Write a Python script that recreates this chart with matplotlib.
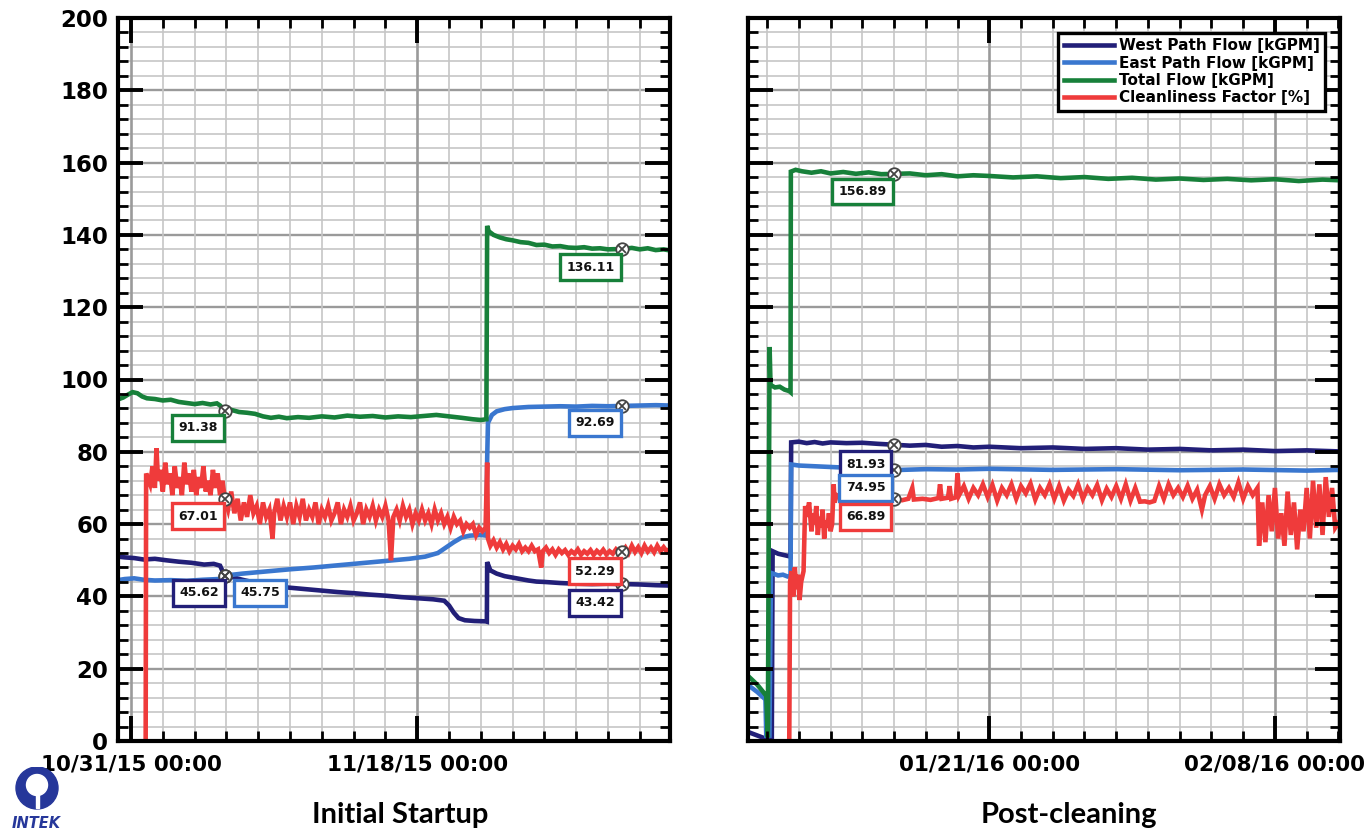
import matplotlib
matplotlib.use("Agg")
import matplotlib.pyplot as plt
import matplotlib.dates as mdates
from matplotlib.patches import Circle, Rectangle
from datetime import datetime
import numpy as np

# ---------------- data (days since the reference date of each panel) ----------------
# Initial Startup, days since 10/31/15 00:00
startup_west_t = [-0.82, -0.4, 0.2, 0.8, 1.5, 2.2, 3.0, 3.8, 4.6, 5.2, 5.6, 5.9, 6.4, 7.0, 7.6, 8.3, 9.0,
                  10.0, 11.0, 12.0, 13.0, 14.0, 15.0, 16.0, 17.0, 18.0, 19.0, 19.7, 20.0, 20.3, 20.6, 21.0,
                  21.6, 22.3, 22.38, 22.4, 22.6, 23.0, 23.5, 24.0, 24.5, 25.0, 25.5, 26.0, 27.0, 28.0, 29.0,
                  30.0, 30.9, 32.0, 33.0, 33.9]
startup_west = [51, 50.8, 50.6, 50.2, 50.4, 50, 49.6, 49.3, 48.8, 49, 48.5, 45.6, 45.3, 44.6, 44, 43.4, 42.8,
                42.4, 42, 41.6, 41.2, 40.9, 40.5, 40.2, 39.8, 39.5, 39.2, 38.8, 37.5, 35.5, 34, 33.4,
                33.2, 33.1, 33, 49.5, 47.2, 46.3, 45.6, 45.2, 44.8, 44.4, 44.1, 44, 43.7, 43.5, 43.4,
                43.5, 43.42, 43.3, 43.1, 43]

startup_east_t = [-0.82, -0.4, 0.2, 0.8, 1.5, 2.5, 3.5, 4.5, 5.5, 5.9, 7.0, 8.5, 10, 11.5, 13, 14.5, 16, 17.5,
                  18.5, 19.3, 19.8, 20.3, 20.8, 21.3, 22.0, 22.35, 22.4, 22.45, 22.7, 23.0, 23.5, 24.0, 25,
                  26, 27, 28, 29, 30, 30.9, 32, 33, 33.9]
startup_east = [44.5, 44.8, 45, 44.6, 44.4, 44.5, 44.3, 44.6, 44.8, 45.75, 46.3, 46.9, 47.5, 48, 48.6, 49.2,
                49.8, 50.4, 51, 52, 53.5, 55, 56.3, 56.8, 57, 56.8, 78, 88, 90.2, 91.2, 91.8, 92.1, 92.4,
                92.5, 92.6, 92.5, 92.7, 92.6, 92.69, 92.8, 92.9, 92.8]

startup_total_t = [-0.82, -0.5, -0.2, 0.1, 0.4, 0.7, 1.0, 1.5, 2.0, 2.5, 3.0, 3.5, 4.0, 4.5, 5.0, 5.4, 5.6,
                   5.9, 6.3, 6.8, 7.3, 7.8, 8.3, 8.8, 9.3, 9.8, 10.5, 11.2, 12.0, 12.8, 13.6, 14.4, 15.2,
                   16.0, 16.8, 17.6, 18.4, 19.2, 20.0, 20.8, 21.5, 22.0, 22.35, 22.4, 22.5, 22.8, 23.2,
                   23.6, 24.0, 24.5, 25.0, 25.5, 26.0, 26.5, 27.0, 27.5, 28.0, 28.5, 29.0, 29.5, 30.0,
                   30.9, 31.5, 32.0, 32.5, 33.0, 33.5, 33.9]
startup_total = [94.5, 95, 95.8, 96.5, 96.2, 95.3, 94.8, 94.6, 94.2, 94.4, 93.8, 93.5, 93.2, 93.5, 93.1,
                 93.4, 92.8, 91.4, 91.6, 91, 90.8, 90.5, 89.8, 89.4, 89.7, 89.3, 89.6, 89.4, 89.8, 89.5,
                 90, 89.7, 89.9, 89.5, 89.8, 89.6, 89.9, 90.2, 89.8, 89.4, 89, 88.8, 89, 142.5, 141, 140,
                 139.3, 138.8, 138.5, 138, 137.8, 137.2, 137.3, 136.8, 136.9, 136.5, 136.4, 136.6, 136.2,
                 136.3, 136.0, 136.11, 136.4, 136, 136.3, 135.8, 136, 135.7]

startup_clean_t = [0.92, 0.95, 1.2, 1.35, 1.5, 1.6, 1.7, 1.85, 2.0, 2.15, 2.3, 2.45, 2.6, 2.75, 2.9, 3.05,
                   3.2, 3.35, 3.5, 3.65, 3.8, 3.95, 4.1, 4.25, 4.4, 4.55, 4.7, 4.85, 5.0, 5.15, 5.3, 5.45,
                   5.6, 5.75, 5.9, 6.1, 6.3, 6.5, 6.7, 6.9, 7.1, 7.3, 7.5, 7.7, 7.9, 8.1, 8.3, 8.5, 8.7,
                   8.9, 9.0, 9.2, 9.4, 9.6, 9.8, 10.0, 10.2, 10.4, 10.6, 10.8, 11.0, 11.2, 11.4, 11.6,
                   11.8, 12.0, 12.2, 12.4, 12.6, 12.8, 13.0, 13.2, 13.4, 13.6, 13.8, 14.0, 14.2, 14.4,
                   14.6, 14.8, 15.0, 15.2, 15.4, 15.6, 15.8, 16.0, 16.2, 16.35, 16.5, 16.7, 16.9, 17.1,
                   17.3, 17.5, 17.7, 17.9, 18.1, 18.3, 18.5, 18.7, 18.9, 19.1, 19.3, 19.5, 19.7, 19.9,
                   20.1, 20.3, 20.5, 20.7, 20.9, 21.1, 21.3, 21.5, 21.7, 21.9, 22.1, 22.3, 22.4, 22.45,
                   22.6, 22.8, 23.0, 23.2, 23.4, 23.6, 23.8, 24.0, 24.2, 24.4, 24.6, 24.8, 25.0, 25.2,
                   25.4, 25.6, 25.8, 25.9, 26.1, 26.3, 26.5, 26.7, 26.9, 27.1, 27.3, 27.5, 27.7, 27.9,
                   28.1, 28.3, 28.5, 28.7, 28.9, 29.1, 29.3, 29.5, 29.7, 29.9, 30.1, 30.3, 30.5, 30.7,
                   30.9, 31.1, 31.3, 31.5, 31.7, 31.9, 32.1, 32.3, 32.5, 32.7, 32.9, 33.1, 33.3, 33.5,
                   33.7, 33.9]
startup_clean = [0, 74, 71, 76, 70, 81, 72, 75, 69, 77, 71, 74, 68, 76, 70, 73, 68, 77, 71, 74, 69, 75, 68,
                 73, 70, 76, 69, 72, 68, 75, 70, 74, 68, 72, 67, 64, 69, 63, 67, 61, 66, 62, 68, 63, 65,
                 60, 66, 62, 64, 56, 63, 67, 61, 65, 62, 66, 60, 65, 62, 67, 61, 64, 62, 66, 60, 64, 62,
                 65, 61, 63, 66, 60, 64, 62, 65, 61, 63, 66, 60, 64, 62, 65, 61, 64, 62, 65, 61, 50, 62,
                 64, 61, 65, 62, 64, 60, 63, 61, 64, 61, 63, 60, 64, 61, 63, 60, 62, 59, 62, 60, 61, 58,
                 60, 59, 60, 57, 59, 58, 59, 77, 56, 54, 55.5, 53.5, 55, 53, 54.5, 52.5, 54, 53, 54.5,
                 52.5, 53.5, 52.5, 54, 52.5, 53, 48, 52.5, 53.5, 52, 53, 51.5, 53, 52, 52.8, 51.5, 52.5,
                 51.8, 53, 51.5, 52.5, 51.8, 52.8, 51.5, 52.6, 51.8, 52.9, 51.6, 52.5, 51.8, 53, 52,
                 52.3, 53.5, 52, 54, 52.3, 53.6, 52, 54, 52.4, 53.5, 52.2, 54, 52.5, 53.6, 52.4, 53.2]

# Post-cleaning, days since 01/21/16 00:00
post_west_t = [-15.2, -14.6, -14.0, -13.7, -13.65, -13.3, -13.0, -12.7, -12.52, -12.48, -12, -11.5, -11,
               -10.5, -10, -9, -8, -7, -5.9, -5, -4, -3, -2, -1, 0, 2, 4, 6, 8, 10, 12, 14, 16, 18, 20,
               22.1]
post_west = [2.5, 1.5, 0.5, 0.5, 52.5, 51.8, 51.5, 51.2, 51, 82.6, 82.8, 82.4, 82.7, 82.3, 82.6, 82.4,
             82.5, 82.2, 81.93, 81.7, 81.9, 81.4, 81.6, 81.2, 81.4, 81, 81.2, 80.8, 81, 80.6, 80.8, 80.4,
             80.6, 80.2, 80.4, 80.1]

post_east_t = [-15.2, -14.6, -14.1, -14.05, -13.85, -13.75, -13.3, -13.0, -12.7, -12.52, -12.48, -12, -11,
               -10, -9, -8, -7, -5.9, -4, -2, 0, 4, 8, 12, 16, 20, 22.1]
post_east = [15.5, 13.5, 11.5, 1.5, 1.5, 46.5, 45.8, 46, 45.5, 45.6, 76.5, 76.2, 76, 75.8, 75.6, 75.5, 75.3,
             74.95, 75.2, 75.1, 75.3, 75.0, 75.2, 74.9, 75.1, 74.8, 75]

post_total_t = [-15.2, -14.6, -14.05, -13.95, -13.84, -13.78, -13.5, -13.2, -12.9, -12.6, -12.52, -12.5,
                -12.2, -11.8, -11.2, -10.6, -10, -9.2, -8.4, -7.6, -6.8, -5.9, -5, -4, -3, -2, -1, 0, 1.5,
                3, 4.5, 6, 7.5, 9, 10.5, 12, 13.5, 15, 16.5, 18, 19.5, 21, 22.1]
post_total = [18, 15.5, 12.5, 1, 109, 98.5, 97.8, 98, 97.2, 96.8, 96.5, 157.5, 158, 157.6, 157.2, 157.6, 157,
              157.4, 156.9, 157.3, 156.8, 156.89, 157, 156.5, 156.8, 156.2, 156.5, 156.3, 155.9, 156.2,
              155.7, 156, 155.5, 155.8, 155.3, 155.6, 155.2, 155.5, 155.1, 155.4, 154.9, 155.3, 155.1]

post_clean_t = [-12.6, -12.55, -12.45, -12.35, -12.25, -12.15, -12.05, -11.95, -11.85, -11.7, -11.6, -11.5,
                -11.35, -11.2, -11.1, -11.0, -10.9, -10.8, -10.7, -10.6, -10.5, -10.4, -10.3, -10.2,
                -10.1, -10.0, -9.9, -9.8, -9.75, -9.6, -9.3, -9.0, -8.6, -8.2, -7.8, -7.4, -7.0, -6.6,
                -6.2, -5.9, -5.5, -5.1, -4.85, -4.75, -4.2, -3.7, -3.2, -3.1, -3.0, -2.6, -2.5, -2.4,
                -2.1, -2.0, -1.9, -1.6, -1.3, -1.0, -0.7, -0.4, -0.1, 0.2, 0.5, 0.8, 1.1, 1.4, 1.7, 2.0,
                2.3, 2.6, 2.9, 3.2, 3.5, 3.8, 4.1, 4.4, 4.7, 5.0, 5.3, 5.6, 5.9, 6.2, 6.5, 6.8, 7.1, 7.4,
                7.7, 8.0, 8.3, 8.6, 8.9, 9.2, 9.5, 9.8, 10.1, 10.4, 10.7, 11.0, 11.3, 11.6, 11.9, 12.2,
                12.5, 12.8, 13.1, 13.4, 13.6, 13.9, 14.2, 14.5, 14.8, 15.1, 15.4, 15.7, 16.0, 16.3, 16.6,
                16.9, 17.0, 17.2, 17.4, 17.6, 17.8, 18.0, 18.2, 18.4, 18.6, 18.8, 19.0, 19.2, 19.4, 19.6,
                19.8, 20.0, 20.2, 20.4, 20.6, 20.8, 21.0, 21.2, 21.4, 21.6, 21.8, 22.1]
post_clean = [0, 44, 47, 40, 48, 42, 46, 39, 44, 47, 65, 62, 66, 58, 63, 60, 65, 57, 62, 59, 64, 56, 61, 59,
              63, 58, 60, 71, 66, 68, 67.5, 67, 67.5, 67, 67.3, 66.8, 67.2, 66.9, 67.2, 66.89, 66.6, 67,
              70, 66.8, 67, 66.7, 67.2, 71, 67, 67.3, 70.5, 67, 67.4, 74, 68, 70.5, 67, 70, 68, 71, 67.5,
              70.8, 66.5, 70, 68, 71, 67, 70.5, 68.5, 71.2, 66.8, 70, 68, 71, 67, 70.5, 66.5, 69.5, 67.8,
              71, 67, 70, 68, 70.8, 66.6, 69.8, 67.5, 70.5, 67, 71, 66.5, 70, 66.2, 66.3, 66, 66.4, 70.5,
              67, 71, 68, 70, 67.5, 70.6, 67, 69.5, 64, 68, 70.5, 67, 71, 68, 70, 67.5, 71.5, 67, 70.5,
              68, 70, 54, 66, 55, 68, 58, 70, 56, 63, 54, 69, 57, 66, 53, 64, 58, 70, 56, 72, 59, 71, 57,
              73, 62, 70, 59, 61]

# callouts: (days, value shown, box centre days, box centre value)
startup_marks = {
    "total": [(5.9, 91.38, 4.2, 86.6), (30.9, 136.11, 28.9, 131.1)],
    "clean": [(5.9, 67.01, 4.2, 62.2), (30.9, 52.29, 29.2, 47.0)],
    "west": [(5.9, 45.62, 4.3, 41.0), (30.9, 43.42, 29.2, 38.2)],
    "east": [(5.9, 45.75, 8.1, 41.0), (30.9, 92.69, 29.2, 88.0)],
}
post_marks = {
    "total": [(-6.0, 156.89, -8.0, 152.0)],
    "west": [(-6.0, 81.93, -7.8, 76.6)],
    "east": [(-6.0, 74.95, -7.8, 70.0)],
    "clean": [(-6.0, 66.89, -7.8, 62.0)],
}

series_labels = ["West Path Flow [kGPM]", "East Path Flow [kGPM]", "Total Flow [kGPM]",
                 "Cleanliness Factor [%]"]
colors = {"west": "#221f78", "east": "#3a77cf", "total": "#17803a", "clean": "#ef3b3b"}

# ---------------- figure ----------------
fig = plt.figure(figsize=(13.66, 8.33), dpi=100)
W, H = 1366, 833
ax1 = fig.add_axes([118 / W, 92 / H, 552 / W, 723 / H])
ax2 = fig.add_axes([748 / W, 92 / H, 592 / W, 723 / H])

base1 = mdates.date2num(datetime(2015, 10, 31))
base2 = mdates.date2num(datetime(2016, 1, 21))


def setup(ax, base, lo, hi, ylabels):
    ax.set_xlim(base + lo, base + hi)
    ax.set_ylim(0, 200)
    majors_x = [base + d for d in range(-36, 54, 18)]
    minors_x = [base + d for d in range(-36, 54, 2) if d % 18 != 0]
    ax.xaxis.set_major_locator(matplotlib.ticker.FixedLocator(majors_x))
    ax.xaxis.set_minor_locator(matplotlib.ticker.FixedLocator(minors_x))
    ax.xaxis.set_major_formatter(mdates.DateFormatter("%m/%d/%y %H:%M"))
    ax.set_yticks(range(0, 201, 20))
    ax.set_yticks([v for v in range(0, 201, 4) if v % 20 != 0], minor=True)
    # grid lines drawn by hand so ticks can sit on top of the data
    for v in range(0, 201, 4):
        major = v % 20 == 0
        ax.axhline(v, color="#9a9a9a" if major else "#c6c6c6", lw=1.7 if major else 1.2, zorder=1)
    for x in majors_x:
        ax.axvline(x, color="#9a9a9a", lw=1.9, zorder=1)
    for x in minors_x:
        ax.axvline(x, color="#c6c6c6", lw=1.2, zorder=1)
    ax.set_axisbelow(False)
    ax.tick_params(which="major", direction="in", length=18, width=2.8, top=True, right=True,
                   color="black", pad=6)
    ax.tick_params(which="minor", direction="in", length=7, width=2.0, top=True, right=True,
                   color="black")
    ax.tick_params(axis="x", which="major", labelsize=15.5, pad=10)
    ax.tick_params(axis="y", which="major", labelsize=16.5, labelleft=ylabels, pad=7)
    for lab in ax.get_xticklabels() + ax.get_yticklabels():
        lab.set_fontweight("bold")
    for sp in ax.spines.values():
        sp.set_linewidth(3.0)
        sp.set_color("black")


setup(ax1, base1, -0.82, 33.9, True)
setup(ax2, base2, -15.2, 22.1, False)

panels = [
    (ax1, base1, {"west": (startup_west_t, startup_west), "east": (startup_east_t, startup_east),
                  "total": (startup_total_t, startup_total), "clean": (startup_clean_t, startup_clean)},
     startup_marks),
    (ax2, base2, {"west": (post_west_t, post_west), "east": (post_east_t, post_east),
                  "total": (post_total_t, post_total), "clean": (post_clean_t, post_clean)},
     post_marks),
]

handles = []
for ax, base, series, marks in panels:
    handles = []
    for key, lab in zip(["west", "east", "total", "clean"], series_labels):
        t, v = series[key]
        h, = ax.plot(base + np.array(t), v, color=colors[key], lw=3.3, label=lab, zorder=2,
                     solid_joinstyle="miter")
        handles.append(h)
    for key, items in marks.items():
        for mt, mv, bt, bv in items:
            ax.plot(base + mt, mv, "o", ms=9, mfc="white", mec="#444444", mew=1.3, zorder=6)
            ax.plot(base + mt, mv, "x", ms=6, mec="#444444", mew=1.3, zorder=7)
            ax.text(base + bt, bv, f"{mv:.2f}", ha="center", va="center", fontsize=9,
                    fontweight="bold", color="#111111", zorder=8,
                    bbox=dict(boxstyle="square,pad=0.5", fc="white", ec=colors[key], lw=2.4))

leg = ax2.legend(handles=handles, loc="upper right", bbox_to_anchor=(1325 / W, 1 - 33 / H),
                 bbox_transform=fig.transFigure, borderaxespad=0, fancybox=False, framealpha=1,
                 edgecolor="black", handlelength=3.3, handletextpad=0.3, labelspacing=0.15,
                 borderpad=0.35, prop={"weight": "bold", "size": 11})
leg.get_frame().set_linewidth(2.4)
leg.set_zorder(10)

fig.text(400 / W, 1 - 815 / H, "Initial Startup", ha="center", va="center", fontsize=21,
         fontweight="bold", family="Lato")
fig.text(1069 / W, 1 - 815 / H, "Post-cleaning", ha="center", va="center", fontsize=21,
         fontweight="bold", family="Lato")

# small company mark bottom-left
lax = fig.add_axes([5 / W, 0, 62 / W, 66 / H])
lax.set_xlim(0, 62)
lax.set_ylim(0, 66)
lax.set_aspect("equal")
lax.axis("off")
logo_blue = "#26379a"
lax.add_patch(Circle((32, 45), 21, color=logo_blue))
lax.add_patch(Circle((32, 48), 10.5, color="white"))
lax.add_patch(Rectangle((30.5, 25), 3, 14, color="white"))
lax.text(31, 2, "INTEK", ha="center", va="bottom", fontsize=10.5, fontweight="bold", style="italic",
         color=logo_blue)

fig.savefig("out.png", dpi=100)
